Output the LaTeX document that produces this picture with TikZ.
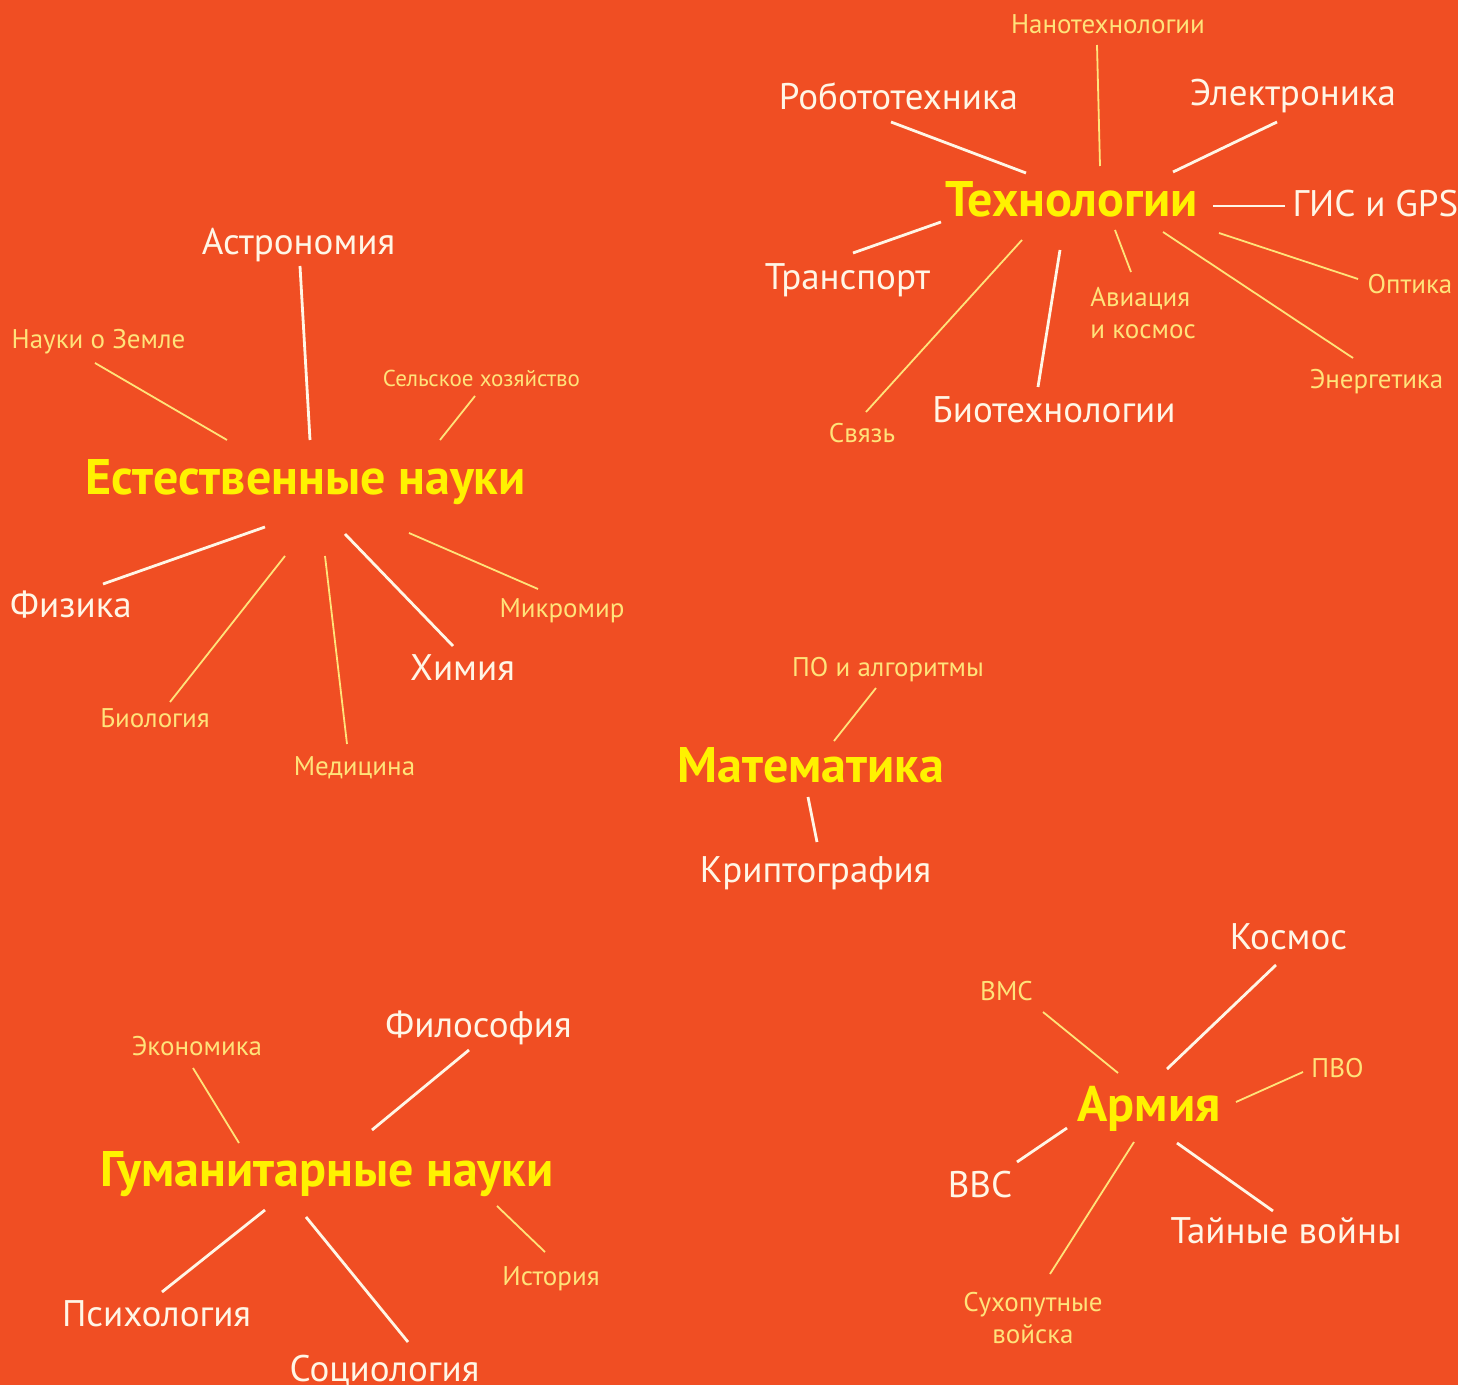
\documentclass[tikz,border=0pt]{standalone}
\usepackage{fontspec}
\setmainfont{PT Sans}
\usepackage{xcolor}
\usepackage{tikz}

\definecolor{bgred}{HTML}{F04E23}
\definecolor{headyel}{HTML}{FFF200}
\definecolor{cream}{HTML}{FFF6E6}
\definecolor{paleyel}{HTML}{FFE37A}

\begin{document}
\begin{tikzpicture}[
        x=0.5pt, y=-0.5pt,
        hub/.style={inner sep=0pt, anchor=base, text=headyel,
                    font=\fontsize{25}{29}\selectfont\bfseries},
        big/.style={inner sep=0pt, anchor=base, text=cream,
                    font=\fontsize{18.5}{22}\selectfont},
        small/.style={inner sep=0pt, anchor=base, text=paleyel,
                      font=\fontsize{13.5}{16}\selectfont},
        wline/.style={draw=cream, line width=1.4pt},
        yline/.style={draw=paleyel, line width=0.9pt},
    ]
        \useasboundingbox (0,0) rectangle (1458,1385);
        \fill[bgred] (0,0) rectangle (1458,1385);

        % natural sciences
        \node[hub]   (nat)   at (305.5,495) {Естественные науки};
        \node[big]   (astro) at (298.5,255) {Астрономия};
        \node[small] (earth) at (98.5,349)  {Науки о Земле};
        \node[small, font=\fontsize{11.5}{14}\selectfont] (agri) at (481.5,387) {Сельское хозяйство};
        \node[big]   (phys)  at (71,618)    {Физика};
        \node[small] (bio)   at (155,727)   {Биология};
        \node[small] (med)   at (354.5,776) {Медицина};
        \node[big]   (chem)  at (462.5,681) {Химия};
        \node[small] (micro) at (562,618)   {Микромир};
        \draw[wline] ([shift={(4.5,-55)}]nat.base)   -- ([shift={(1.5,11)}]astro.base);
        \draw[yline] ([shift={(-78.5,-55)}]nat.base) -- ([shift={(-3.5,14)}]earth.base);
        \draw[yline] ([shift={(134.5,-55)}]nat.base) -- ([shift={(-6.5,9)}]agri.base);
        \draw[wline] ([shift={(-40.5,32)}]nat.base)  -- ([shift={(32,-34)}]phys.base);
        \draw[yline] ([shift={(-20.5,61)}]nat.base)  -- ([shift={(15,-25)}]bio.base);
        \draw[yline] ([shift={(19.5,61)}]nat.base)   -- ([shift={(-7.5,-32)}]med.base);
        \draw[wline] ([shift={(39.5,39)}]nat.base)   -- ([shift={(-9.5,-35)}]chem.base);
        \draw[yline] ([shift={(103.5,38)}]nat.base)  -- ([shift={(-24,-29)}]micro.base);

        % technologies
        \node[hub]   (tech)   at (1071.5,217) {Технологии};
        \node[small] (nano)   at (1108,34)    {Нанотехнологии};
        \node[big]   (robo)   at (898.5,110)  {Робототехника};
        \node[big]   (elec)   at (1293,106)   {Электроника};
        \node[big]   (gis)    at (1375.5,217) {ГИС и GPS};
        \node[big]   (trans)  at (847.5,290)  {Транспорт};
        \node[small] (svyaz)  at (862,443)    {Связь};
        \node[big]   (biot)   at (1054,423)   {Биотехнологии};
        \node[small, anchor=north west, align=left] (avia) at (1090,287) {Авиация\\и космос};
        \node[small] (energy) at (1376.5,389) {Энергетика};
        \node[small] (optics) at (1410,294)   {Оптика};
        \draw[yline] ([shift={(28.5,-51)}]tech.base)  -- ([shift={(-11,11)}]nano.base);
        \draw[wline] ([shift={(-45.5,-44)}]tech.base) -- ([shift={(-7.5,12)}]robo.base);
        \draw[wline] ([shift={(101.5,-45)}]tech.base) -- ([shift={(-16,16)}]elec.base);
        \draw[wline] ([shift={(141.5,-11)}]tech.base) -- ([shift={(-90.5,-11)}]gis.base);
        \draw[wline] ([shift={(-130.5,5)}]tech.base)  -- ([shift={(5.5,-37)}]trans.base);
        \draw[yline] ([shift={(-49.5,23)}]tech.base)  -- ([shift={(4,-31)}]svyaz.base);
        \draw[wline] ([shift={(-11.5,33)}]tech.base)  -- ([shift={(-16,-36)}]biot.base);
        \draw[yline] ([shift={(43.5,13)}]tech.base)   -- ([shift={(41,-15)}]avia.north west);
        \draw[yline] ([shift={(91.5,15)}]tech.base)   -- ([shift={(-23.5,-31)}]energy.base);
        \draw[yline] ([shift={(147.5,16)}]tech.base)  -- ([shift={(-52,-15)}]optics.base);

        % mathematics
        \node[hub]   (math)   at (811,783)   {Математика};
        \node[small] (algo)   at (888,676)   {ПО и алгоритмы};
        \node[big]   (crypto) at (815.5,882) {Криптография};
        \draw[yline] ([shift={(23,-42)}]math.base) -- ([shift={(-12,12)}]algo.base);
        \draw[wline] ([shift={(-3,14)}]math.base)  -- ([shift={(1.5,-40)}]crypto.base);

        % army
        \node[hub]   (army)   at (1149,1121)  {Армия};
        \node[big]   (space)  at (1288.5,949) {Космос};
        \node[small] (vms)    at (1006.5,1000) {ВМС};
        \node[small] (pvo)    at (1337.5,1077) {ПВО};
        \node[big]   (vvs)    at (980,1197)   {ВВС};
        \node[big]   (secret) at (1286,1243)  {Тайные войны};
        \node[small, anchor=north, align=center] (land) at (1033,1292) {Сухопутные\\войска};
        \draw[wline] ([shift={(18,-52)}]army.base)  -- ([shift={(-12.5,16)}]space.base);
        \draw[yline] ([shift={(-31,-48)}]army.base) -- ([shift={(36.5,12)}]vms.base);
        \draw[yline] ([shift={(87,-19)}]army.base)  -- ([shift={(-34.5,-5)}]pvo.base);
        \draw[wline] ([shift={(-82,7)}]army.base)   -- ([shift={(37,-35)}]vvs.base);
        \draw[wline] ([shift={(28,22)}]army.base)   -- ([shift={(-13,-32)}]secret.base);
        \draw[yline] ([shift={(-15,21)}]army.base)  -- ([shift={(17,-18)}]land.north);

        % humanities
        \node[hub]   (hum)   at (327,1186)   {Гуманитарные науки};
        \node[small] (econ)  at (197,1055)   {Экономика};
        \node[big]   (philo) at (478.5,1037) {Философия};
        \node[small] (hist)  at (551,1285)   {История};
        \node[big]   (psych) at (156.5,1326) {Психология};
        \node[big]   (socio) at (384.5,1381) {Социология};
        \draw[yline] ([shift={(-88,-43)}]hum.base) -- ([shift={(-4,13)}]econ.base);
        \draw[wline] ([shift={(45,-56)}]hum.base)  -- ([shift={(-9.5,13)}]philo.base);
        \draw[yline] ([shift={(170,20)}]hum.base)  -- ([shift={(-6,-33)}]hist.base);
        \draw[wline] ([shift={(-62,24)}]hum.base)  -- ([shift={(5.5,-34)}]psych.base);
        \draw[wline] ([shift={(-21,31)}]hum.base)  -- ([shift={(23.5,-39)}]socio.base);
    \end{tikzpicture}
\end{document}
